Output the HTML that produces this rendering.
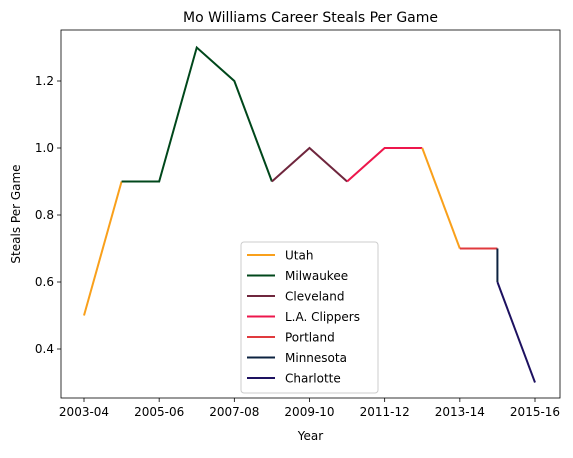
<!DOCTYPE html>
<html><head><meta charset="utf-8"><style>
body{margin:0;background:#fff;}
svg text{font-family:"DejaVu Sans","Liberation Sans",sans-serif;fill:#000;}
</style></head><body>
<svg id="chart" width="573" height="453" xmlns="http://www.w3.org/2000/svg"></svg>
<script>
const categories=["2003-04","2004-05","2005-06","2006-07","2007-08","2008-09","2009-10","2010-11","2011-12","2012-13","2013-14","2014-15","2015-16"];
const xTickLabels=["2003-04","2005-06","2007-08","2009-10","2011-12","2013-14","2015-16"];
const yTickValues=[0.4,0.6,0.8,1.0,1.2];
const teamNames=["Utah","Milwaukee","Cleveland","L.A. Clippers","Utah","Portland","Minnesota","Charlotte"];
const teamColors=["#F9A01B","#00471B","#6F263D","#ED174C","#F9A01B","#E03A3E","#0C2340","#1D1160"];
const seriesX=[[0,1],[1,2,3,4,5],[5,6,7],[7,8,9],[9,10],[10,11],[11,11],[11,12]];
const seriesY=[[0.5,0.9],[0.9,0.9,1.3,1.2,0.9],[0.9,1.0,0.9],[0.9,1.0,1.0],[1.0,0.7],[0.7,0.7],[0.7,0.6],[0.6,0.3]];
const legendNames=["Utah","Milwaukee","Cleveland","L.A. Clippers","Portland","Minnesota","Charlotte"];
const legendColors=["#F9A01B","#00471B","#6F263D","#ED174C","#E03A3E","#0C2340","#1D1160"];

const svg=document.getElementById('chart');
const NS="http://www.w3.org/2000/svg";
const L=61,R=560,T=30,B=398;
const x=i=>84+i*(535-84)/12;
const y=v=>349-(v-0.4)*(349-81)/0.8;
function mk(t,a,p){const e=document.createElementNS(NS,t);for(const k in a)e.setAttribute(k,a[k]);(p||svg).appendChild(e);return e;}

let t=mk('text',{x:(L+R)/2,y:22,'text-anchor':'middle','font-size':14});t.textContent="Mo Williams Career Steals Per Game";


seriesX.forEach((xs,s)=>{
  const pts=xs.map((xi,j)=>x(xi)+','+y(seriesY[s][j])).join(' ');
  const pl=mk('polyline',{points:pts,fill:'none',stroke:teamColors[s],'stroke-width':2});
  
  
});

const frame=mk('rect',{x:L,y:T,width:R-L,height:B-T,fill:'none',stroke:'#000','stroke-width':0.8});


xTickLabels.forEach(lab=>{
  const i=categories.indexOf(lab);
  mk('line',{x1:x(i),x2:x(i),y1:B,y2:B+4,stroke:'#000','stroke-width':0.8});
  const tx=mk('text',{x:x(i),y:B+18,'text-anchor':'middle','font-size':12});tx.textContent=lab;
  
});
yTickValues.forEach(v=>{
  mk('line',{x1:L-4,x2:L,y1:y(v),y2:y(v),stroke:'#000','stroke-width':0.8});
  const tx=mk('text',{x:L-7,y:y(v)+4,'text-anchor':'end','font-size':12});tx.textContent=v.toFixed(1);
  
});
t=mk('text',{x:(L+R)/2,y:440,'text-anchor':'middle','font-size':12});t.textContent="Year";

t=mk('text',{x:0,y:0,'text-anchor':'middle','font-size':12,transform:`translate(20,${(T+B)/2}) rotate(-90)`});t.textContent="Steals Per Game";


const lg=mk('g',{});
mk('rect',{x:241,y:242,width:137,height:151,rx:3,fill:'#fff','fill-opacity':0.8,stroke:'#ccc'},lg);
legendNames.forEach((n,i)=>{
  const yy=255+i*20.5;
  const g=mk('g',{},lg);
  mk('line',{x1:247,x2:275,y1:yy,y2:yy,stroke:legendColors[i],'stroke-width':2},g);
  const tx=mk('text',{x:285,y:yy+4.5,'font-size':12},g);tx.textContent=n;
});
</script>
</body></html>
